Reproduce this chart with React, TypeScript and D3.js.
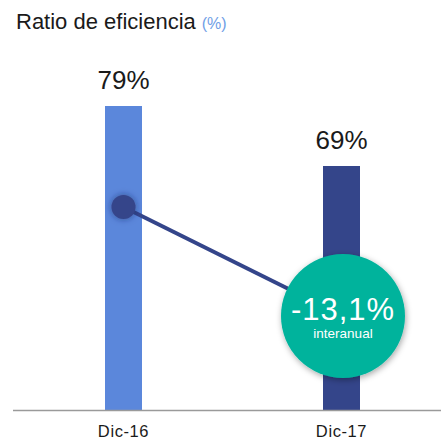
import React from "react";
import * as d3 from "d3";

const categories = ["Dic-16", "Dic-17"];
const values = [79, 69];
const valueLabels = ["79%", "69%"];
const barColors = ["#5b87db", "#34458a"];
const changeLabel = "-13,1%";
const changeSub = "interanual";
const title = "Ratio de eficiencia";
const titleUnit = "(%)";

const W = 441;
const H = 442;
const FONT = "'Liberation Sans', Arial, sans-serif";

export default function App() {
  const x = d3.scalePoint<string>().domain(categories).range([123.5, 341.5]);
  const y = d3.scaleLinear().domain([28.33, 79]).range([410, 106]);
  const barW = 37;

  const dot = { x: x(categories[0])!, y: 207 };
  const bubble = { x: 343, y: 316, r: 62 };

  return (
    <svg
      width={W}
      height={H}
      style={{ position: "absolute", left: 0, top: 0, background: "#fff" }}
      fontFamily={FONT}
    >
      <defs>
        <filter id="shadow" x="-30%" y="-30%" width="160%" height="160%">
          <feDropShadow dx="1" dy="2" stdDeviation="3" floodColor="#000" floodOpacity="0.35" />
        </filter>
        <filter id="dotShadow" x="-60%" y="-60%" width="220%" height="220%">
          <feGaussianBlur in="SourceAlpha" stdDeviation="3" result="b" />
          <feFlood floodColor="#1a2360" floodOpacity="0.6" />
          <feComposite in2="b" operator="in" result="s" />
          <feMerge>
            <feMergeNode in="s" />
            <feMergeNode in="SourceGraphic" />
          </feMerge>
        </filter>
      </defs>

      <text x={16} y={29} fontSize={22} fill="#1a1a1a">
        {title}
        <tspan fontSize={16} fill="#6f9ee6" dx={6}>{titleUnit}</tspan>
      </text>

      {categories.map((c, i) => (
        <g key={c}>
          <rect
            x={x(c)! - barW / 2}
            y={y(values[i])}
            width={barW}
            height={y(28.33) - y(values[i])}
            fill={barColors[i]}
          />
          <text
            x={x(c)!}
            y={y(values[i]) - 17}
            fontSize={26}
            textAnchor="middle"
            fill="#1a1a1a"
          >
            {valueLabels[i]}
          </text>
          <text
            x={x(c)!}
            y={437}
            fontSize={16.5}
            textAnchor="middle"
            fill="#1a1a1a"
            letterSpacing={0.6}
          >
            {c}
          </text>
        </g>
      ))}

      <line x1={13} x2={W} y1={410.5} y2={410.5} stroke="#9a9a9a" strokeWidth={1.5} />

      <line
        x1={dot.x}
        y1={dot.y}
        x2={bubble.x}
        y2={bubble.y}
        stroke="#34458a"
        strokeWidth={4}
      />
      <circle cx={dot.x} cy={dot.y} r={12} fill="#34458a" filter="url(#dotShadow)" />

      <circle cx={bubble.x} cy={bubble.y} r={bubble.r} fill="#05b39c" filter="url(#shadow)" />
      <text
        x={bubble.x}
        y={320}
        fontSize={31}
        textAnchor="middle"
        fill="#fff"
        letterSpacing={1}
      >
        {changeLabel}
      </text>
      <text x={bubble.x} y={338} fontSize={13.5} textAnchor="middle" fill="#fff">
        {changeSub}
      </text>
    </svg>
  );
}
